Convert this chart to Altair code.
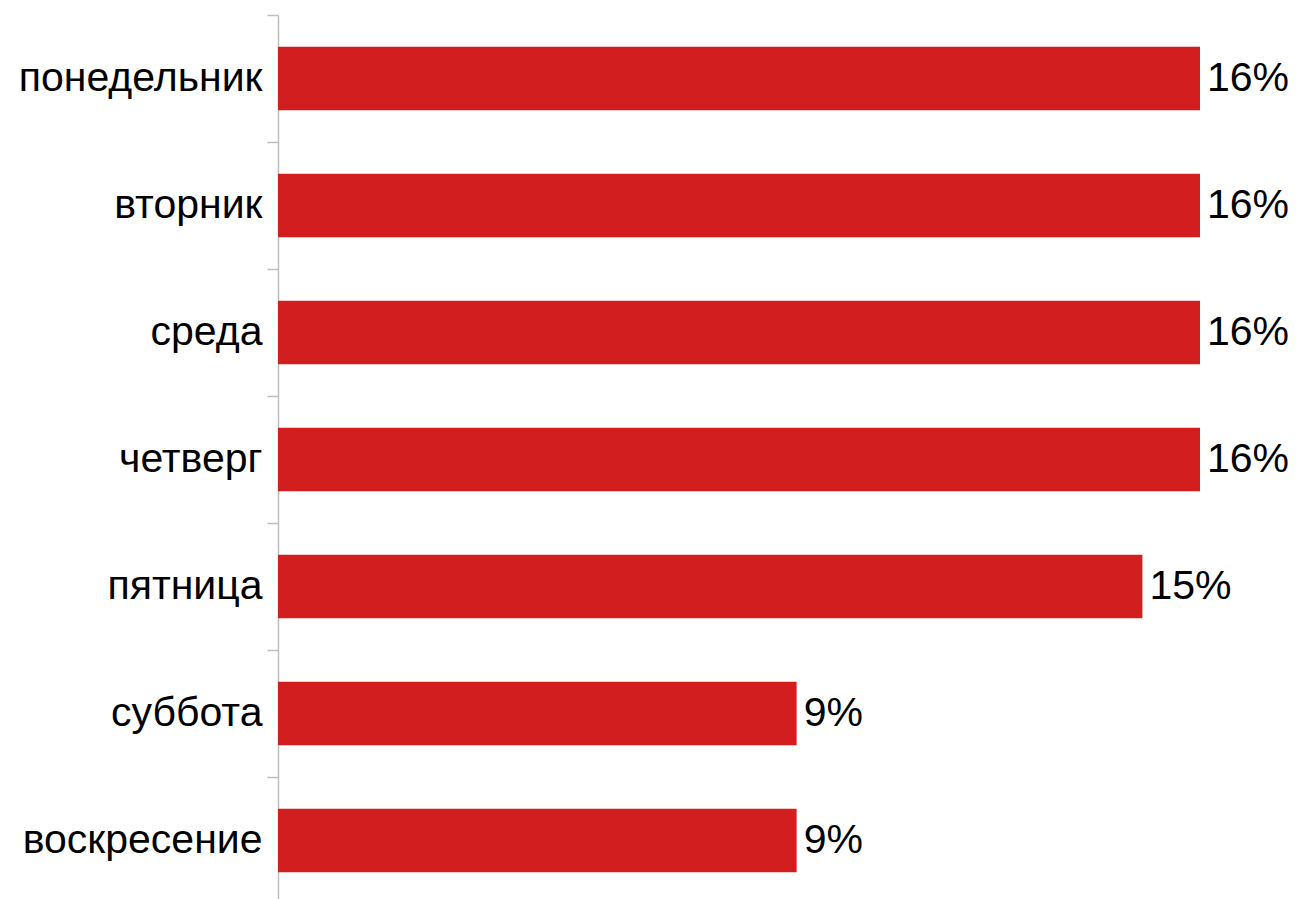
import altair as alt
import pandas as pd

days = ["понедельник", "вторник", "среда", "четверг", "пятница", "суббота", "воскресение"]
values = [16, 16, 16, 16, 15, 9, 9]

df = pd.DataFrame({"day": days, "value": values})
df["label"] = df["value"].astype(str) + "%"

y = alt.Y("day:N", sort=days, title=None,
          scale=alt.Scale(paddingInner=0, paddingOuter=0),
          axis=alt.Axis(domainColor="#BFBFBF", tickColor="#BFBFBF", tickSize=11,
                        tickBand="extent", labelFontSize=41, labelFont="Liberation Sans",
                        labelColor="#000000", labelPadding=5, labelLimit=0,
                        domainWidth=1.5, tickWidth=1.5))
x = alt.X("value:Q", title=None, axis=None, scale=alt.Scale(domain=[0, 16], nice=False, zero=True))

bars = alt.Chart(df).mark_bar(color="#D21E1E", height={"band": 0.5}).encode(x=x, y=y)
text = alt.Chart(df).mark_text(align="left", baseline="middle", dx=7, fontSize=41,
                               font="Liberation Sans", color="#000000").encode(x=x, y=y, text="label:N")

chart = alt.layer(bars, text).properties(
    width=922, height=889,
    autosize=alt.AutoSizeParams(type="none"),
    padding={"left": 270, "top": 7, "right": 89, "bottom": 0},
).configure_view(stroke=None)

chart.save("out.html", embed_options={"renderer": "svg", "actions": False})
